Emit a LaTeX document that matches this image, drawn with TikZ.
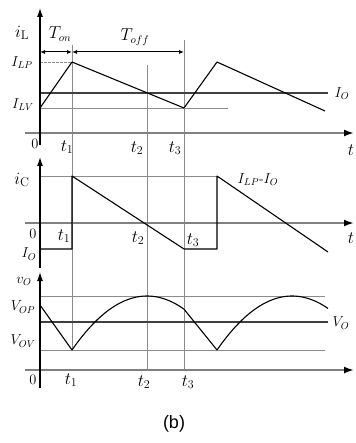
\documentclass[tikz,border=0pt]{standalone}
\usepackage{fontspec}
\newfontfamily\capfont{Liberation Sans}
\usetikzlibrary{arrows.meta}
\begin{document}
\begin{tikzpicture}[x=1pt,y=-1pt,
  yaxis/.style={line width=1.2pt, black, -{Latex[length=9pt,width=6pt]}},
  taxis/.style={line width=2.2pt, black!50, -{Latex[length=10pt,width=7pt,black]}},
  wave/.style={line width=1.1pt, black, line join=round},
  guide/.style={line width=0.6pt, black!45},
  level/.style={line width=1.3pt, black!75},
  dim/.style={line width=1pt, black, {Latex[length=5pt,width=4pt]}-{Latex[length=5pt,width=4pt]}},
  lbl/.style={font=\fontsize{14}{16}\selectfont, inner sep=0pt},
  tlbl/.style={font=\fontsize{16}{18}\selectfont, inner sep=0pt},
  big/.style={font=\fontsize{18}{20}\selectfont, inner sep=0pt}]
\useasboundingbox[fill=white] (0,0) rectangle (355,443);

% ---------- guide lines ----------
\draw[guide] (72,45) -- (72,350);
\draw[guide] (147,65) -- (147,370);
\draw[guide] (184,40) -- (184,370);
\draw[guide, dashed, dash pattern=on 3pt off 1pt] (40,62) -- (72,62);
\draw[guide] (40,108) -- (228,108);
\draw[guide] (40,176) -- (217,176);
\draw[guide] (40,296) -- (325,296);
\draw[guide] (40,350) -- (325,350);

% ---------- level lines ----------
\draw[level] (40,93) -- (328,93);
\draw[level] (40,322) -- (328,322);

% ---------- axes ----------
\draw[taxis] (25,133) -- (354,133);
\draw[taxis] (25,223) -- (354,223);
\draw[taxis] (25,370) -- (354,370);
\draw[yaxis] (40,145) -- (40,8);
\draw[yaxis] (40,268) -- (40,157);
\draw[yaxis] (40,388) -- (40,272);

% ---------- T_on / T_off ----------
\coordinate (d0) at (40,52);
\coordinate (d1) at (72,52);
\coordinate (d3) at (184,52);
\draw[dim] (d0) -- (d1);
\draw[dim] (d1) -- (d3);

% ---------- waveforms ----------
\draw[wave] (40,108) -- (72,62) -- (184,108) -- (217,62) -- (325,111);
\draw[wave] (40,249) -- (72,249) -- (72,176) -- (184,249) -- (217,249) -- (217,176) -- (328,252);
\draw[wave] (40,305) -- (72,350)
  -- plot[domain=72:184, samples=40] (\x,{296+0.0096*(\x-147)^2})
  -- (217,350)
  -- plot[domain=217:328, samples=40] (\x,{296+0.0096*(\x-292)^2});

% ---------- labels panel 1 ----------
\node[big] (iL) at (22,33) {$i_{\mathrm{L}}$};
\node[tlbl] (Ton) at (60,34) {$T_{on}$};
\node[tlbl] (Toff) at (135,37) {$T_{off}$};
\node[lbl] (ILP) at (22,63) {$I_{LP}$};
\node[lbl] (ILV) at (23,105) {$I_{LV}$};
\node[lbl] (IO1) at (342,94) {$I_O$};
\node[lbl] (z1) at (35,144) {$0$};
\node[big] (a1) at (67,147) {$t_1$};
\node[big] (a2) at (137,148) {$t_2$};
\node[big] (a3) at (175,148) {$t_3$};
\node[big] (ta) at (351,150) {$t$};

% ---------- labels panel 2 ----------
\node[big] (iC) at (22,180) {$i_{\mathrm{C}}$};
\node[lbl] (ILPIO) at (258,180) {$I_{LP}$-$I_O$};
\node[lbl] (z2) at (33,234) {$0$};
\node[big] (b1) at (64,236) {$t_1$};
\node[big] (b2) at (138,238) {$t_2$};
\node[big] (b3) at (193,240) {$t_3$};
\node[lbl] (IO2) at (29,254) {$I_O$};
\node[big] (tb) at (351,238) {$t$};

% ---------- labels panel 3 ----------
\node[lbl] (vO) at (24,281) {$v_O$};
\node[lbl] (VOP) at (23,307) {$V_{OP}$};
\node[lbl] (VOV) at (23,341) {$V_{OV}$};
\node[lbl] (VO) at (341,323) {$V_O$};
\node[lbl] (z3) at (33,380) {$0$};
\node[big] (c1) at (71,380) {$t_1$};
\node[big] (c2) at (144,382) {$t_2$};
\node[big] (c3) at (188,382) {$t_3$};

\node[font=\capfont\fontsize{18}{20}\selectfont, inner sep=0pt] (cap) at (174,424) {(b)};
\end{tikzpicture}
\end{document}
